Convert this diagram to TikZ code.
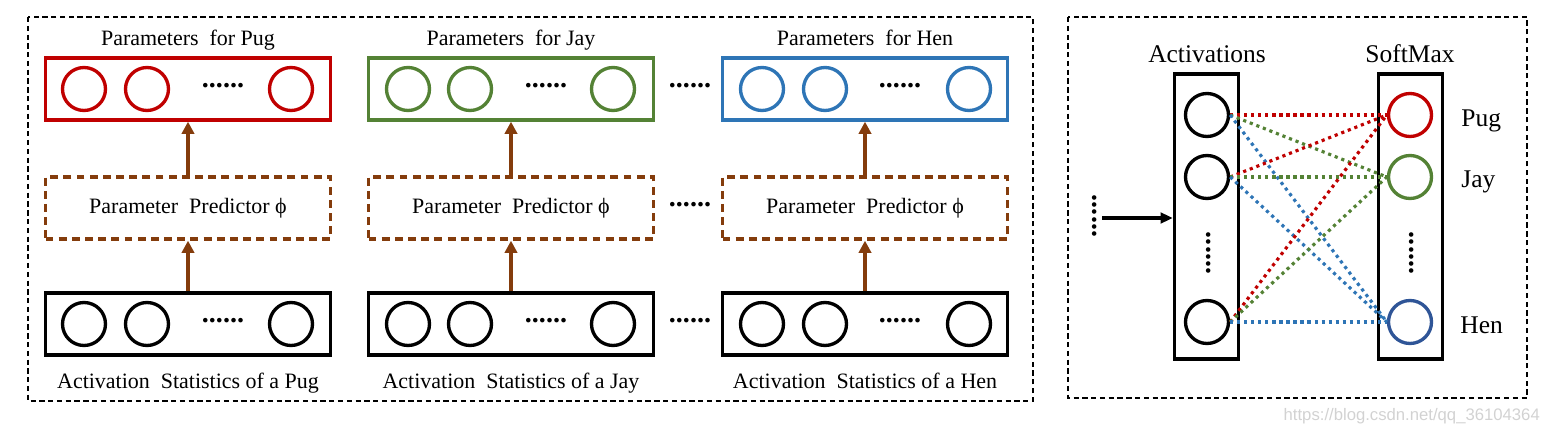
\documentclass[tikz,border=0pt]{standalone}
\usepackage{fontspec}
\setmainfont{Liberation Serif}
\newfontfamily\markfont{Liberation Sans}
\usepackage{tikz}
\usetikzlibrary{positioning,arrows.meta}

\definecolor{pugred}{HTML}{C00000}
\definecolor{jaygreen}{HTML}{548235}
\definecolor{henblue}{HTML}{2E75B6}
\definecolor{hendark}{HTML}{2F5597}
\definecolor{predbrown}{HTML}{843C0C}

\begin{document}
\begin{tikzpicture}[x=0.02cm,y=-0.02cm,
    layer/.style={draw,line width=1.9pt,minimum width=5.7cm,minimum height=1.24cm,inner sep=0pt},
    predictor/.style={draw=predbrown,line width=1.9pt,dash pattern=on 4.5pt off 3pt,minimum width=5.7cm,minimum height=1.24cm,font=\fontsize{12.5}{14}\selectfont},
    unit/.style={circle,draw,line width=1.9pt,minimum size=0.86cm,inner sep=0pt},
    column/.style={draw,line width=1.9pt,minimum width=1.28cm,minimum height=5.7cm,inner sep=0pt},
    lbl/.style={font=\fontsize{12.5}{14}\selectfont,inner sep=0pt,anchor=base},
    big/.style={font=\fontsize{14.5}{16}\selectfont,inner sep=0pt,anchor=base},
    dots/.style={font=\fontsize{16}{16}\bfseries\selectfont,inner sep=0pt},
    up/.style={-{Triangle[length=7pt,width=7pt]},draw=predbrown,line width=1.9pt},
    link/.style={line width=1.8pt,dash pattern=on 1.8pt off 2.2pt},
    frame/.style={line width=0.8pt,dash pattern=on 3pt off 2pt}]
  \useasboundingbox (0,0) rectangle (1555,432);

  % outer frames
  \draw[frame] (28,17) rectangle (1033,401);
  \draw[frame] (1068,17) rectangle (1527,398);

  % parameters
  \node[layer,draw=pugred] (ppug) at (188,89) {};
  \node[layer,draw=jaygreen] (pjay) at (511,89) {};
  \node[layer,draw=henblue] (phen) at (865,89) {};
  \node[lbl] (tpug) at (188,46) {Parameters\ \ for Pug};
  \node[lbl] (tjay) at (511,46) {Parameters\ \ for Jay};
  \node[lbl] (then) at (865,46) {Parameters\ \ for Hen};

  \node[unit,draw=pugred] (pa1) at (84,89) {};
  \node[unit,draw=pugred] (pa2) at (147,89) {};
  \node[unit,draw=pugred] (pa3) at (291,89) {};
  \node[dots] at (223,86) {......};
  \node[unit,draw=jaygreen] (ja1) at (408,89) {};
  \node[unit,draw=jaygreen] (ja2) at (470,89) {};
  \node[unit,draw=jaygreen] (ja3) at (613,89) {};
  \node[dots] at (546,86) {......};
  \node[unit,draw=henblue] (ha1) at (762,89) {};
  \node[unit,draw=henblue] (ha2) at (825,89) {};
  \node[unit,draw=henblue] (ha3) at (969,89) {};
  \node[dots] at (900,86) {......};

  % predictors
  \node[predictor] (fpug) at (188,208) {Parameter\ \ Predictor ϕ};
  \node[predictor] (fjay) at (511,208) {Parameter\ \ Predictor ϕ};
  \node[predictor] (fhen) at (865,208) {Parameter\ \ Predictor ϕ};

  % statistics
  \node[layer] (spug) at (188,324) {};
  \node[layer] (sjay) at (511,324) {};
  \node[layer] (shen) at (865,324) {};
  \node[lbl] (bpug) at (188,388) {Activation\ \ Statistics of a Pug};
  \node[lbl] (bjay) at (511,388) {Activation\ \ Statistics of a Jay};
  \node[lbl] (bhen) at (865,388) {Activation\ \ Statistics of a Hen};

  \node[unit] (sa1) at (84,324) {};
  \node[unit] (sa2) at (147,324) {};
  \node[unit] (sa3) at (291,324) {};
  \node[dots] at (223,321) {......};
  \node[unit] (sb1) at (408,324) {};
  \node[unit] (sb2) at (470,324) {};
  \node[unit] (sb3) at (613,324) {};
  \node[dots] at (546,321) {......};
  \node[unit] (sc1) at (762,324) {};
  \node[unit] (sc2) at (825,324) {};
  \node[unit] (sc3) at (969,324) {};
  \node[dots] at (900,321) {......};

  % dots between columns
  \node[dots] at (690,86) {......};
  \node[dots] at (690,205) {......};
  \node[dots] at (690,321) {......};

  %stats>predictor>params
  \draw[up] (spug.north) -- (fpug.south);
  \draw[up] (sjay.north) -- (fjay.south);
  \draw[up] (shen.north) -- (fhen.south);
  \draw[up] (fpug.north) -- (ppug.south);
  \draw[up] (fjay.north) -- (pjay.south);
  \draw[up] (fhen.north) -- (phen.south);

  % right panel
  \node[column] (act) at (1206.5,216.5) {};
  \node[column] (soft) at (1410.5,216.5) {};
  \node[big] (tact) at (1207,63) {Activations};
  \node[big] (tsoft) at (1410,63) {SoftMax};

  \node[unit] (a1) at (1207,115) {};
  \node[unit] (a2) at (1207,177) {};
  \node[unit] (a3) at (1207,322) {};
  \node[dots,rotate=90] at (1209,253) {......};
  \node[unit,draw=pugred] (s1) at (1410,115) {};
  \node[unit,draw=jaygreen] (s2) at (1410,177) {};
  \node[unit,draw=hendark] (s3) at (1410,322) {};
  \node[dots,rotate=90] at (1412,253) {......};
  \node[big,anchor=base west] (lpug) at (1461,127) {Pug};
  \node[big,anchor=base west] (ljay) at (1461,188) {Jay};
  \node[big,anchor=base west] (lhen) at (1460,333) {Hen};

  \coordinate (in) at (1102,218);
  \node[dots,rotate=90] at (1095,216) {......};
  \draw[-{Triangle[length=7pt,width=6pt]},line width=1.9pt] (in) -- (act.west |- in);

  %act>softmax
  \draw[link,draw=pugred] (a1.east) -- (s1.west);
  \draw[link,draw=jaygreen] (a1.east) -- (s2.west);
  \draw[link,draw=henblue] (a1.east) -- (s3.west);
  \draw[link,draw=pugred] (a2.east) -- (s1.west);
  \draw[link,draw=jaygreen] (a2.east) -- (s2.west);
  \draw[link,draw=henblue] (a2.east) -- (s3.west);
  \draw[link,draw=pugred] (a3.east) -- (s1.west);
  \draw[link,draw=jaygreen] (a3.east) -- (s2.west);
  \draw[link,draw=henblue] (a3.east) -- (s3.west);

  \node[anchor=east,text=gray!35,font=\markfont\fontsize{9.5}{11}\selectfont] (mark) at (1546,416) {https://blog.csdn.net/qq\_36104364};
\end{tikzpicture}
\end{document}
